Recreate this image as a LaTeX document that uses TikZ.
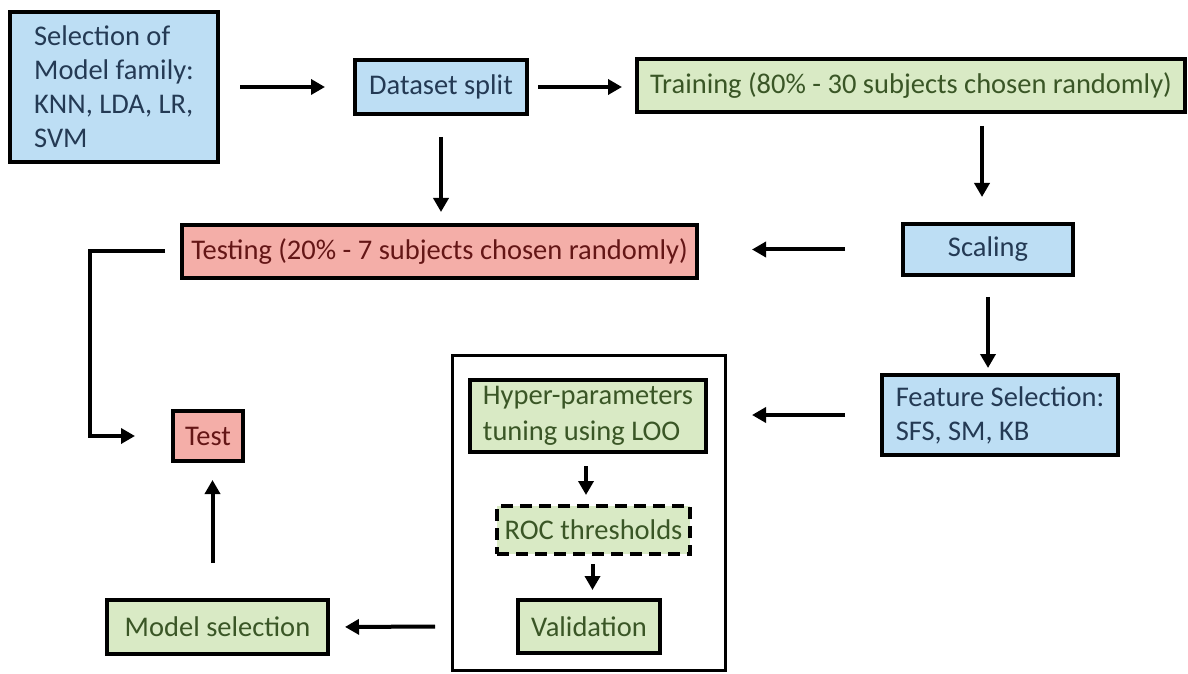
\documentclass[tikz,border=0pt]{standalone}
\usepackage{fontspec}
\setmainfont{Carlito}
\usetikzlibrary{arrows.meta}
\definecolor{bluefill}{RGB}{189,222,244}
\definecolor{bluetext}{RGB}{36,58,84}
\definecolor{greenfill}{RGB}{217,234,197}
\definecolor{greentext}{RGB}{58,86,38}
\definecolor{redfill}{RGB}{244,174,168}
\definecolor{redtext}{RGB}{100,22,22}
\begin{document}
\begin{tikzpicture}[x=1pt,y=1pt,
  every node/.style={outer sep=0pt, inner sep=0pt, font=\fontsize{28.5}{34}\selectfont},
  box/.style={draw=black, line width=4.5pt, minimum width=#1},
  bluebox/.style={box=#1, fill=bluefill, text=bluetext},
  greenbox/.style={box=#1, fill=greenfill, text=greentext},
  redbox/.style={box=#1, fill=redfill, text=redtext},
  flow/.style={line width=4pt, -{Triangle[length=14pt,width=15pt]}}]
\useasboundingbox (0,0) rectangle (1188,673);

\node[bluebox=208, minimum height=150, align=left] (sel) at (114,586)
  {Selection of\\Model family:\\KNN, LDA, LR,\\SVM};
\node[bluebox=172, minimum height=54] (split) at (441,586) {Dataset split};
\node[greenbox=548, minimum height=53] (train) at (911,587.5) {Training (80\% - 30 subjects chosen randomly)};
\node[redbox=515, minimum height=53] (test20) at (439.5,421.5) {Testing (20\% - 7 subjects chosen randomly)};
\node[bluebox=170, minimum height=51] (scal) at (988,423.5) {Scaling};
\node[bluebox=236, minimum height=80, align=left] (feat) at (1000,258)
  {Feature Selection:\\SFS, SM, KB};

\node[draw=black, line width=3pt, minimum width=273, minimum height=315] (cont) at (588.5,160.5) {};
\node[greenbox=236, minimum height=72, align=left, font=\fontsize{28.5}{36}\selectfont] (hyper) at (588,257)
  {Hyper-parameters\\tuning using LOO};
\node[greenbox=193, minimum height=48, dashed, dash pattern=on 12pt off 7pt] (roc) at (593.5,143) {ROC thresholds};
\node[greenbox=142, minimum height=53] (valid) at (589,46.5) {Validation};

\node[greenbox=221, minimum height=54] (msel) at (217.5,46) {Model selection};
\node[redbox=70, minimum height=50] (test) at (208,237) {Test};

\draw[flow, shorten <=22pt, shorten >=30pt] (sel.east |- split) -- (split.west);
\draw[flow, shorten <=11pt, shorten >=15pt] (split.east) -- (train.west |- split);
\draw[flow, shorten <=23pt, shorten >=13pt] (split.south) -- (split.south |- test20.north);
\draw[flow, shorten <=14pt, shorten >=27pt] ([xshift=-6pt]train.south -| scal) -- ([xshift=-6pt]scal.north);
\draw[flow, shorten <=58pt, shorten >=55pt] (scal.west) -- (test20.east |- scal);
\draw[flow, shorten <=22pt, shorten >=7pt] (scal.south) -- (scal.south |- feat.north);
\draw[flow, shorten <=37pt, shorten >=27pt] (feat.west) -- (cont.east |- feat);
\draw[flow, shorten <=14pt, shorten >=11pt] ([xshift=-2pt]hyper.south) -- ([xshift=-2pt]hyper.south |- roc.north);
\draw[flow, shorten <=10pt, shorten >=10pt] ([xshift=-1pt]roc.south) -- ([xshift=-1pt]roc.south |- valid.north);
\draw[flow, shorten <=17pt, shorten >=17pt] (cont.west |- valid) -- (msel.east);
\draw[flow, shorten <=37pt, shorten >=19pt] ([xshift=-5pt]msel.north) -- ([xshift=-5pt]msel.north |- test.south);
\draw[flow, shorten <=17pt, shorten >=38pt] (test20.west) -- ++(-92,0) |- (test.west);
\end{tikzpicture}
\end{document}
